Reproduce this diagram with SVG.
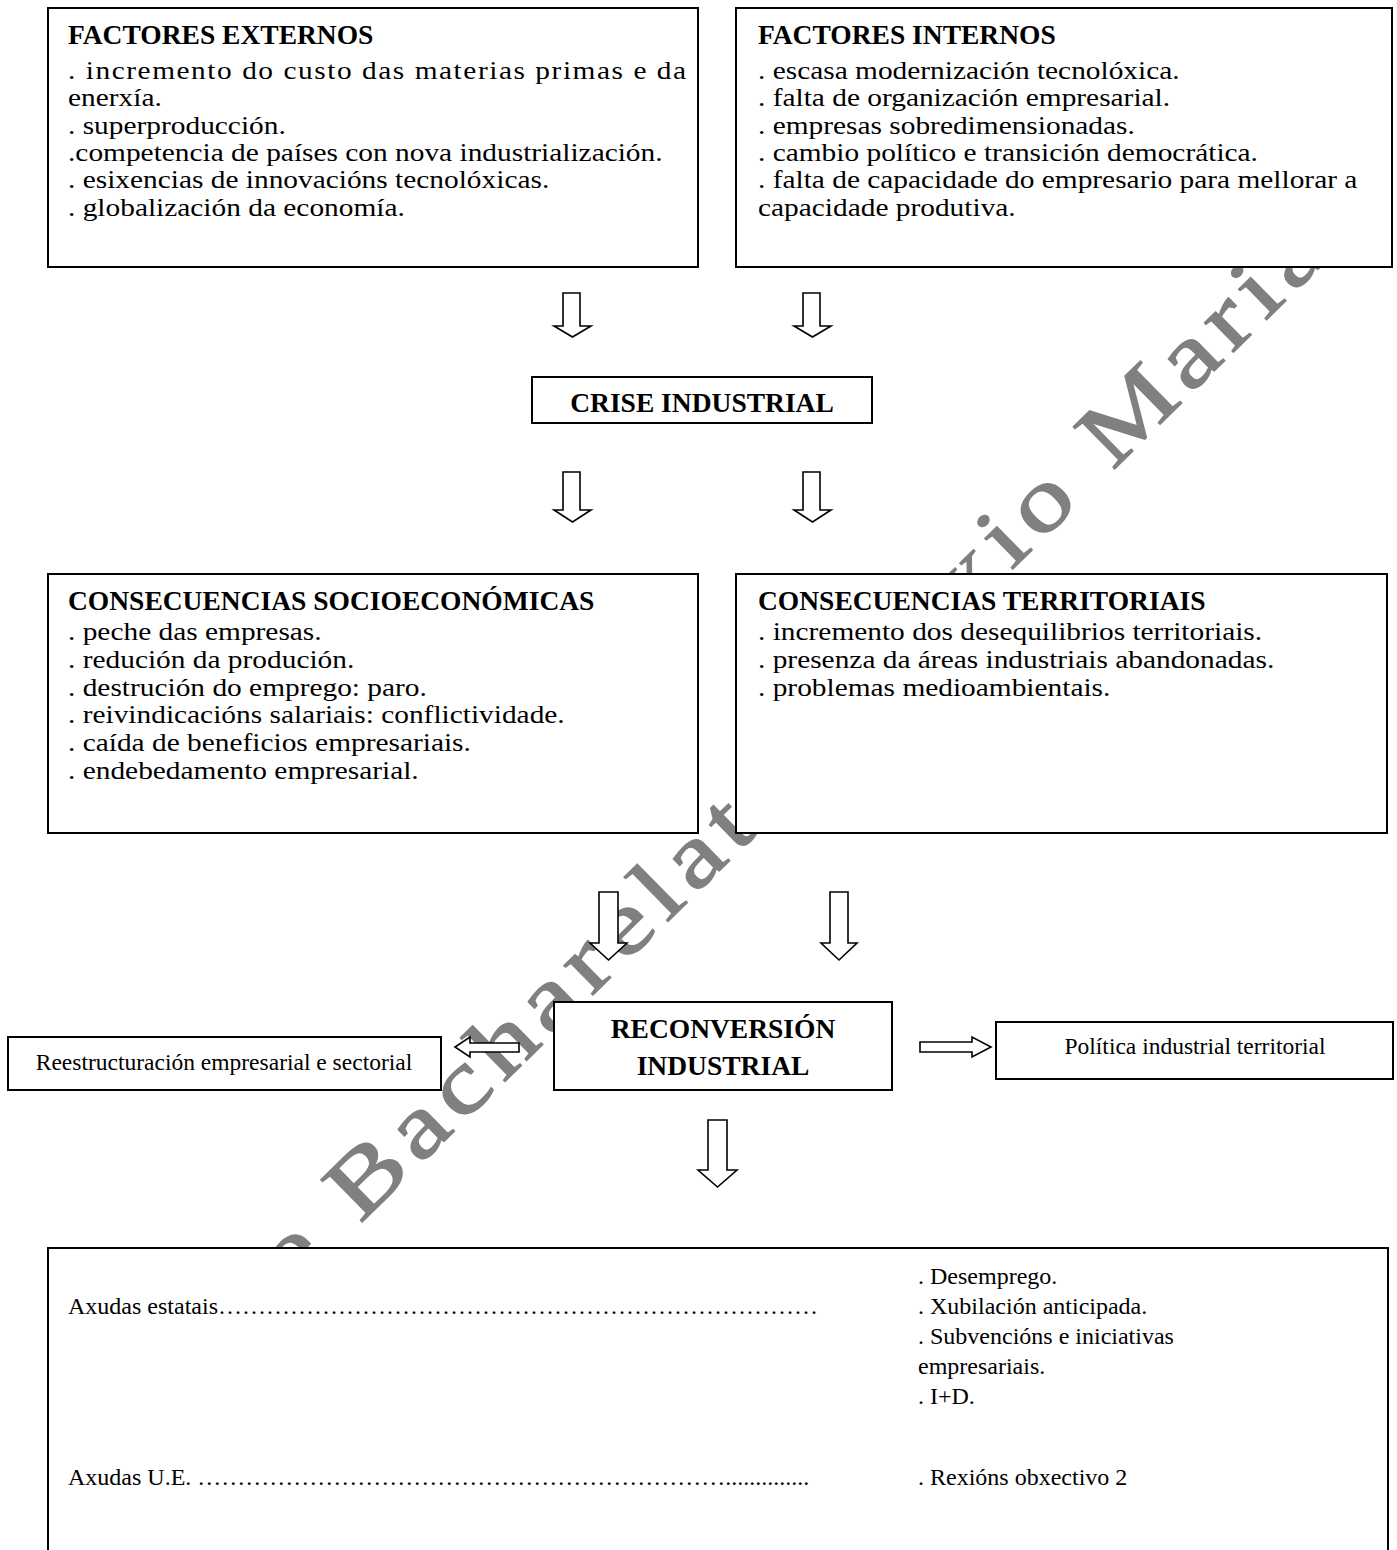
<svg xmlns="http://www.w3.org/2000/svg" width="1397" height="1550" viewBox="0 0 1397 1550">
<style>
.box{fill:#fff;stroke:#000;stroke-width:2}
.arr{fill:#fff;stroke:#000;stroke-width:1.6;stroke-linejoin:miter}
text{font-family:"Liberation Serif","Times New Roman",serif;fill:#000}
.b{font-size:26px}
.h{font-size:27.5px;font-weight:bold}
.s{font-size:23.5px}
.f{font-size:24px}
.wm{font-size:90px;fill:#808080;stroke:#808080;stroke-width:1.5px;letter-spacing:7px}
</style>
<rect width="1397" height="1550" fill="#fff"/>
<g id="watermark">
<text class="wm" transform="translate(360,1224) rotate(-44.5) scale(1.25,1)" x="-128.5" y="0">de Bacharelat</text>
<text class="wm" transform="translate(965,616) rotate(-44.5) scale(1.25,1)" x="0" y="0">xio Maria</text>
</g>
<g id="connectors">
<path class="arr" d="M563,293 H580 V326 H591 L572.5,337 L554,326 H563 Z"/>
<path class="arr" d="M803,293 H820 V326 H831 L812.5,337 L794,326 H803 Z"/>
<path class="arr" d="M563,472 H580 V510 H591 L572.5,522 L554,510 H563 Z"/>
<path class="arr" d="M803,472 H820 V510 H831 L812.5,522 L794,510 H803 Z"/>
<path class="arr" d="M599,892 H618 V943 H627 L608.5,960 L590,943 H599 Z"/>
<path class="arr" d="M830,892 H848 V943 H857 L839,960 L821,943 H830 Z"/>
<path class="arr" d="M708,1120 H727 V1170 H737 L717.5,1187 L698,1170 H708 Z"/>
<path class="arr" d="M519,1043 H470 V1037 L455,1047 L470,1057 V1052 H519 Z"/>
<path class="arr" d="M920,1042 H972 V1037 L991,1047 L972,1057 V1052 H920 Z"/>
</g>
<g id="factores-externos">
<rect class="box" x="48" y="8" width="650" height="259"/>
<text class="h" x="68" y="44">FACTORES EXTERNOS</text>
<g transform="matrix(1.13,0,0,1,68,0)">
<text class="b" x="0" y="79" textLength="547" lengthAdjust="spacing">. incremento do custo das materias primas e da</text>
<text class="b" x="0" y="106">enerxía.</text>
<text class="b" x="0" y="134">. superproducción.</text>
<text class="b" x="0" y="161">.competencia de países con nova industrialización.</text>
<text class="b" x="0" y="188">. esixencias de innovacións tecnolóxicas.</text>
<text class="b" x="0" y="216">. globalización da economía.</text>
</g>
</g>
<g id="factores-internos">
<rect class="box" x="736" y="8" width="656" height="259"/>
<text class="h" x="758" y="44">FACTORES INTERNOS</text>
<g transform="matrix(1.13,0,0,1,758,0)">
<text class="b" x="0" y="79">. escasa modernización tecnolóxica.</text>
<text class="b" x="0" y="106">. falta de organización empresarial.</text>
<text class="b" x="0" y="134">. empresas sobredimensionadas.</text>
<text class="b" x="0" y="161">. cambio político e transición democrática.</text>
<text class="b" x="0" y="188">. falta de capacidade do empresario para mellorar a</text>
<text class="b" x="0" y="216">capacidade produtiva.</text>
</g>
</g>
<g id="crise-industrial">
<rect class="box" x="532" y="377" width="340" height="46"/>
<text class="h" x="702" y="412" text-anchor="middle">CRISE INDUSTRIAL</text>
</g>
<g id="consecuencias-socioeconomicas">
<rect class="box" x="48" y="574" width="650" height="259"/>
<text class="h" x="68" y="610">CONSECUENCIAS SOCIOECONÓMICAS</text>
<g transform="matrix(1.13,0,0,1,68,0)">
<text class="b" x="0" y="640">. peche das empresas.</text>
<text class="b" x="0" y="668">. redución da produción.</text>
<text class="b" x="0" y="696">. destrución do emprego: paro.</text>
<text class="b" x="0" y="723">. reivindicacións salariais: conflictividade.</text>
<text class="b" x="0" y="751">. caída de beneficios empresariais.</text>
<text class="b" x="0" y="779">. endebedamento empresarial.</text>
</g>
</g>
<g id="consecuencias-territoriais">
<rect class="box" x="736" y="574" width="651" height="259"/>
<text class="h" x="758" y="610">CONSECUENCIAS TERRITORIAIS</text>
<g transform="matrix(1.13,0,0,1,758,0)">
<text class="b" x="0" y="640">. incremento dos desequilibrios territoriais.</text>
<text class="b" x="0" y="668">. presenza da áreas industriais abandonadas.</text>
<text class="b" x="0" y="696">. problemas medioambientais.</text>
</g>
</g>
<g id="reconversion-industrial">
<rect class="box" x="554" y="1002" width="338" height="88"/>
<text class="h" x="723" y="1038" text-anchor="middle">RECONVERSIÓN</text>
<text class="h" x="723" y="1075" text-anchor="middle">INDUSTRIAL</text>
</g>
<g id="reestructuracion">
<rect class="box" x="8" y="1037" width="433" height="53"/>
<text class="s" x="224" y="1070" text-anchor="middle">Reestructuración empresarial e sectorial</text>
</g>
<g id="politica-territorial">
<rect class="box" x="996" y="1022" width="397" height="57"/>
<text class="s" x="1195" y="1054" text-anchor="middle">Política industrial territorial</text>
</g>
<g id="axudas">
<rect class="box" x="48" y="1248" width="1340" height="330"/>
<text class="f" x="68" y="1314">Axudas estatais&#8230;&#8230;&#8230;&#8230;&#8230;&#8230;&#8230;&#8230;&#8230;&#8230;&#8230;&#8230;&#8230;&#8230;&#8230;&#8230;&#8230;&#8230;&#8230;&#8230;&#8230;&#8230;&#8230;&#8230;&#8230;</text>
<text class="f" x="918" y="1284">. Desemprego.</text>
<text class="f" x="918" y="1314">. Xubilación anticipada.</text>
<text class="f" x="918" y="1344">. Subvencións e iniciativas</text>
<text class="f" x="918" y="1374">empresariais.</text>
<text class="f" x="918" y="1404">. I+D.</text>
<text class="f" x="68" y="1485">Axudas U.E. &#8230;&#8230;&#8230;&#8230;&#8230;&#8230;&#8230;&#8230;&#8230;&#8230;&#8230;&#8230;&#8230;&#8230;&#8230;&#8230;&#8230;&#8230;&#8230;&#8230;&#8230;&#8230;..............</text>
<text class="f" x="918" y="1485">. Rexións obxectivo 2</text>
</g>
</svg>
